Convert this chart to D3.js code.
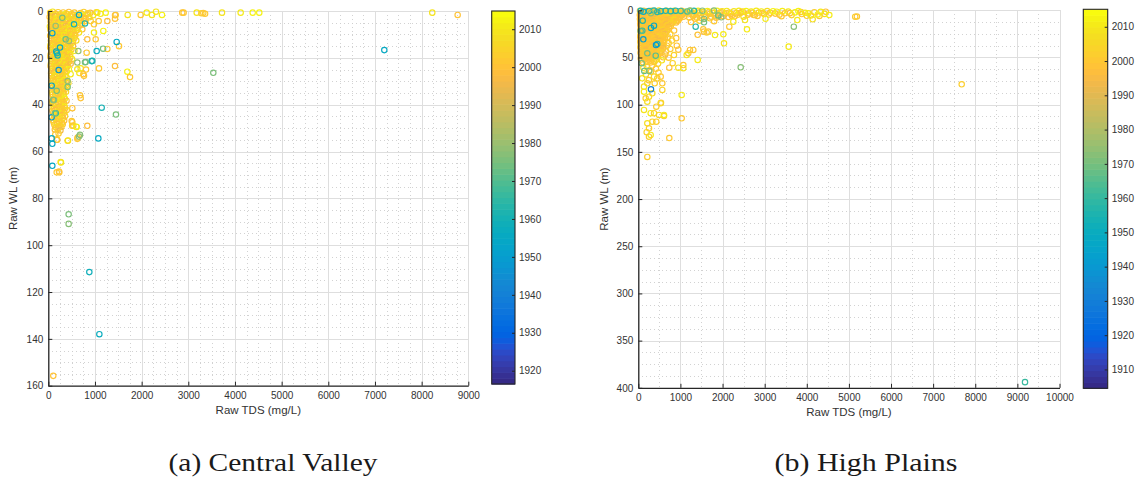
<!DOCTYPE html>
<html>
<head>
<meta charset="utf-8">
<script src="https://cdn.jsdelivr.net/npm/d3@7"></script>
<style>
  html, body { margin: 0; padding: 0; background: #ffffff; }
  svg { display: block; }
</style>
</head>
<body>
<svg id="fig" width="1136" height="477"></svg>
<script>
// ---------------------------------------------------------------
// Central Valley samples: [raw TDS (mg/L), raw water level (m), year]
// ---------------------------------------------------------------
const cvSamples = [
  // shallow band
  [40,0.8,2005],[95,0.3,2010],[150,1.2,1999],[210,0.5,2003],[265,1.4,2008],[320,0.6,2001],[380,1.1,2011],[440,0.4,1998],[500,1.3,2006],[560,0.7,2002],
  [620,1.6,2009],[690,0.9,2000],[760,0.4,2004],[830,1.5,2007],[900,0.8,1997],[960,1.8,2010],[1030,0.5,2003],[1120,1.2,2009],[1230,0.7,2012],[1050,0.7,2011],
  [65,1.9,2004],[120,1.7,2009],[180,2.0,2001],[235,1.6,2006],[290,2.1,1998],[345,1.8,2010],[410,1.5,2003],[470,2.0,2007],[530,1.7,2000],[590,2.1,2011],
  [650,1.8,2002],[720,1.4,2008],[850,1.0,2005],
  [30,2.6,2000],[85,3.1,2007],[140,2.2,1996],[200,2.9,2011],[255,2.4,2002],[315,3.3,1999],[370,2.1,2005],[430,2.8,2010],[490,2.3,2001],[545,3.2,2008],
  [610,2.5,1995],[670,3.0,2004],[740,2.2,2012],[800,3.4,1999],[880,2.7,2006],[765,2.9,2000],[1080,4.3,2001],[1265,4.3,1998],[1430,3.3,2000],[1430,1.8,1997],
  [1444,1.7,2001],[1701,1.7,2010],[1980,1.7,2001],[2108,0.7,2011],[2222,1.7,2009],[2308,0.3,2010],[2436,1.7,2012],[2870,0.7,2000],[2900,0.7,2001],[3180,0.7,2010],
  [3280,1.0,2003],[3321,0.9,2002],[3360,1.2,2001],[3722,0.7,2010],[4122,0.7,2011],[4380,0.7,2012],[4521,0.7,2012],[8228,0.7,2010],[8772,1.7,2000],
  [60,3.8,2009],[120,4.0,2002],[185,3.6,2006],[250,3.9,1999],[305,3.7,2011],[360,4.1,2001],[420,3.6,2004],[475,3.9,2008],[540,4.0,2000],[600,3.7,2010],[700,4.0,2002],
  [50,4.6,2003],[110,5.0,1998],[170,4.3,2009],[230,4.8,2000],[285,4.4,2006],[345,5.2,2002],[400,4.5,2011],[460,5.0,1997],[520,4.2,2004],[585,5.4,2009],
  [650,4.7,2001],[720,5.3,2007],[780,4.4,2000],[908,4.3,2003],[979,5.7,2001],
  [65,5.8,2001],[130,6.0,2007],[190,5.7,2003],[250,5.9,2010],[310,5.6,1997],[370,6.0,2005],[430,5.7,2000],[490,5.9,2012],[550,5.6,2003],[680,6.2,2006],
  [35,6.6,2008],[90,7.0,2001],[150,6.2,2005],[205,6.9,1999],[265,6.4,2010],[320,7.2,2003],[380,6.5,1996],[440,7.0,2008],[500,6.3,2002],[560,6.9,2011],
  [625,7.3,2000],[729,7.8,1998],
  [45,7.9,2006],[105,7.7,2000],[165,8.0,2010],[225,7.6,2003],[285,7.9,1998],[345,7.7,2008],[405,8.0,2001],[465,7.6,2011],[525,7.8,2005],[620,8.1,2002],
  [60,8.7,1997],[120,8.3,2006],[180,9.0,2002],[235,8.5,2009],[295,8.9,2000],[350,8.2,2005],[410,9.1,2012],[470,8.6,1999],[530,9.0,2004],[590,8.4,2007],
  [658,9.2,2010],[979,9.2,2011],[1179,8.5,2012],
  [75,9.7,2003],[135,9.9,2011],[195,9.6,2004],[255,9.8,1999],[315,9.5,2007],[375,9.9,2002],[435,9.6,2009],[495,9.8,2000],[560,9.7,2006],
  [40,10.6,2002],[100,10.2,2008],[160,11.0,1995],[220,10.4,2006],[280,10.9,2001],[335,10.3,2010],[395,11.1,1998],[455,10.5,2003],[515,10.9,2009],[580,10.4,2000],
  [836,12.1,1999],[1015,12.1,2001],
  [70,11.8,2009],[130,11.6,2002],[190,11.9,2006],[250,11.5,2000],[310,11.8,2011],[370,11.6,2004],[430,11.9,1999],[490,11.7,2007],[560,11.5,2001],
  [55,12.7,2004],[115,12.3,1999],[175,13.0,2007],[235,12.4,2001],[290,12.9,2005],[350,12.2,2011],[410,12.8,1996],[470,12.3,2006],[530,13.0,2002],[600,12.6,2008],
  [75,13.7,2000],[135,13.9,2008],[195,13.6,2002],[255,13.8,2010],[315,13.5,2004],[375,13.9,1998],[435,13.6,2006],[500,13.8,2011],
  [45,14.6,2010],[105,14.2,2001],[160,14.9,2004],[220,14.4,1998],[280,14.8,2009],[340,14.3,2003],[400,15.0,2000],[460,14.5,2007],[530,14.9,1997],[822,17.8,2001],
  [1515,15.0,2002],[1265,16.2,2001],
  [40,15.6,2002],[100,15.8,2009],[160,15.5,2001],[220,15.7,2005],[280,15.5,2010],[340,15.8,2000],[400,15.6,2007],[470,15.7,2003],
  [70,16.6,2000],[130,16.2,2006],[190,16.9,2002],[250,16.3,2011],[310,16.8,1999],[370,16.2,2005],[430,16.9,2008],[495,16.4,2001],[560,17.0,2010],
  [80,17.6,2007],[140,17.8,2000],[200,17.5,2004],[260,17.7,2011],[320,17.5,1998],[380,17.8,2006],[440,17.6,2001],
  [50,18.6,2003],[110,18.3,1997],[170,18.9,2009],[230,18.4,2004],[290,18.8,2000],[350,18.2,2007],[410,18.8,2002],[470,18.5,2011],
  [45,19.6,2001],[105,19.8,2006],[165,19.5,2010],[225,19.7,2002],[285,19.5,2005],[345,19.8,2009],[405,19.6,1999],[470,19.7,2004],
  [75,20.6,2005],[135,20.2,2001],[195,20.9,1998],[255,20.3,2010],[315,20.8,2003],[375,20.4,2006],[440,20.9,2000],[510,20.5,2009],
  [85,21.6,2010],[145,21.8,2003],[205,21.5,2007],[265,21.7,2000],[325,21.5,2011],[385,21.8,2004],[450,21.6,2001],
  [55,22.6,2008],[115,22.2,2002],[175,22.9,2006],[235,22.4,1999],[295,22.8,2011],[355,22.3,2001],[415,22.9,2005],[480,22.5,1997],
  [50,23.6,2002],[110,23.8,2009],[170,23.5,2000],[230,23.7,2006],[290,23.5,2003],[350,23.8,2010],[410,23.6,1998],
  [80,24.6,2000],[140,24.2,2007],[200,24.9,2003],[260,24.3,1996],[320,24.8,2009],[380,24.4,2002],[440,24.9,2012],[622,24.9,2010],[1086,24.5,2001],[1429,23.5,1999],
  [90,25.6,2007],[150,25.8,2002],[210,25.5,2011],[270,25.7,2004],[330,25.5,2000],[395,25.8,2008],
  [60,26.6,2004],[120,26.2,1999],[180,26.9,2010],[240,26.4,2001],[300,26.8,2006],[360,26.2,2003],[479,27.0,2011],[666,26.5,2009],[1694,25.9,2012],[694,24.5,2010],
  [65,27.6,2001],[125,27.8,2010],[185,27.5,2003],[245,27.7,2007],[305,27.5,2000],[365,27.8,2005],
  [90,28.6,2002],[150,28.2,2008],[210,28.9,2000],[270,28.4,2005],[330,28.8,1998],[390,28.3,2009],[765,27.7,2001],[750,27.0,2000],[808,25.0,2002],[1751,28.2,2001],
  [100,29.6,2004],[160,29.8,2000],[220,29.5,2009],[280,29.7,2002],[340,29.5,2011],[400,29.8,2006],
  [70,30.6,2006],[130,30.2,2001],[190,30.9,2004],[250,30.4,2011],[310,30.8,2002],[370,30.3,1997],[430,30.7,2007],
  [75,31.6,2010],[135,31.8,2003],[195,31.5,2006],[255,31.7,2000],[315,31.5,2008],[375,31.8,2001],
  [95,32.6,2000],[155,32.2,2009],[215,32.9,2003],[275,32.4,1999],[335,32.8,2005],[395,32.3,2010],
  [110,33.6,2002],[170,33.8,2011],[230,33.5,2004],[290,33.7,1999],[350,33.5,2007],
  [80,34.6,2004],[140,34.2,1998],[200,34.9,2008],[260,34.4,2002],[320,34.8,2000],[380,34.5,2006],
  [90,35.6,2008],[150,35.8,2001],[210,35.5,2005],[270,35.7,2010],[330,35.5,2002],
  [100,36.6,2001],[160,36.2,2007],[220,36.9,1999],[280,36.4,2004],[340,36.8,2010],[694,37.2,2000],[680,36.0,2001],
  [115,37.6,2003],[175,37.8,2009],[235,37.5,2000],[295,37.7,2006],[355,37.5,2011],
  [85,38.6,2003],[145,38.2,2000],[205,38.9,2005],[265,38.4,2009],[325,38.8,2002],[390,38.3,1998],
  [95,39.6,2005],[155,39.8,2000],[215,39.5,2010],[275,39.7,2003],[335,39.5,2001],
  [110,40.6,2006],[170,40.2,2001],[230,40.9,1997],[290,40.4,2003],[350,40.8,2011],[515,41.5,2000],
  [120,41.6,2009],[180,41.8,2002],[240,41.5,2006],[300,41.7,2000],[360,41.5,2004],
  [90,42.6,2002],[150,42.2,1999],[210,42.9,2008],[270,42.4,2004],[330,42.8,2000],[395,42.3,2005],
  [105,43.6,2001],[165,43.8,2007],[225,43.5,2003],[285,43.7,2010],[345,43.5,2000],
  [120,44.6,2004],[180,44.2,2010],[240,44.9,2001],[300,44.4,1998],[360,44.8,2006],
  [135,45.6,2006],[195,45.8,2000],[255,45.5,2011],[315,45.7,2002],
  [100,46.6,2000],[160,46.2,2005],[220,46.9,2002],[280,46.4,2009],[340,46.8,1999],[515,47.5,2002],[501,47.0,2001],
  [115,47.6,2002],[175,47.8,2009],[235,47.5,2001],[295,47.7,2005],
  [130,48.6,2003],[190,48.2,2000],[250,48.9,2007],[310,48.4,2001],[536,49.0,2004],[600,49.4,2012],[836,49.0,1999],[511,49.0,2003],[608,49.5,2011],
  [160,49.6,2008],[220,49.8,2001],[280,49.5,2004],
  [140,50.6,1999],[200,50.4,2003],[260,51.0,1996],
  [150,52.7,2001],[220,52.3,2004],[629,54.0,2002],[622,54.6,2001],
  [193,55.0,2000],[180,55.0,2002],[415,55.4,2003],[422,55.3,2009],
  [272,64.7,2010],[265,64.5,2009],[180,68.9,2001],[236,68.9,2002],[229,68.5,2000],[107,155.8,2000],
  // earlier decades
  [7200,16.7,1956],[1465,13.2,1955],[1037,17.1,1957],[929,21.4,1958],[1144,41.3,1960],[1072,54.4,1956],[72,54.4,1954],[86,56.7,1955],[86,66.1,1955],
  [72,31.9,1951],[72,45.4,1950],[86,9.5,1950],[879,111.5,1958],[1094,138.0,1957],[658,1.7,1956],[786,5.3,1962],[251,15.6,1955],[186,18.0,1960],
  [170,17.3,1958],[200,19.0,1961],[551,5.7,1960],[943,21.3,1962],[158,43.7,1960],[222,25.2,1948],
  [3536,26.4,1976],[1450,44.2,1975],[436,86.8,1976],[436,90.9,1977],[1175,16.1,1974],[786,21.9,1975],[622,22.0,1978],[679,52.9,1977],[107,38.0,1973],
  [143,43.7,1976],[300,2.9,1975],[158,6.4,1978],[372,12.1,1972],[443,12.8,1980],[643,17.1,1978],[801,21.8,1974],[415,32.4,1976],[415,29.9,1979],
  [180,34.1,1975],[122,38.0,1978],[658,53.6,1979]
];

// ---------------------------------------------------------------
// High Plains samples: [raw TDS (mg/L), raw water level (m), year]
// ---------------------------------------------------------------
const hpSamples = [
  [40,0.6,1998],[130,0.4,2003],[220,1.0,1996],[310,0.5,2001],[400,0.9,1994],[490,0.3,2005],[580,1.1,1999],[670,0.5,2002],[760,0.8,1997],[850,0.4,2008],
  [940,1.2,2000],[1030,0.6,1995],[1120,1.5,2010],
  [85,1.8,2001],[175,1.6,1997],[265,2.0,2003],[355,1.7,1999],[445,1.9,1995],[535,1.6,2002],[625,2.0,1998],[715,1.7,2004],[805,1.9,1996],[895,1.6,2001],
  [985,2.0,1999],[1075,1.7,2003],
  [80,3.2,2000],[170,2.7,1995],[260,3.4,2004],[350,2.9,1998],[440,3.5,2001],[530,2.8,1996],[620,3.3,2007],[710,2.6,1999],[800,3.6,2002],[890,2.9,1994],
  [980,3.4,2009],[1070,2.7,1998],
  [40,4.3,2002],[130,4.1,1998],[220,4.5,2000],[310,4.2,1996],[400,4.4,2003],[490,4.1,1999],[580,4.5,2001],[670,4.2,1997],[760,4.4,2005],[850,4.1,1998],
  [940,4.5,2002],[1030,4.2,2000],
  [40,5.6,1997],[130,5.2,2002],[220,5.9,1999],[310,5.3,1995],[400,5.7,2006],[490,5.1,2000],[580,5.8,1996],[670,5.4,2003],[760,6.0,1998],[850,5.2,2001],
  [940,5.8,2011],[1040,5.3,1997],
  [85,6.8,1996],[175,6.6,2001],[265,7.0,1998],[355,6.7,2004],[445,6.9,2000],[535,6.6,1997],[625,7.0,2003],[715,6.7,1999],[805,6.9,2001],[895,6.6,1996],
  [985,7.0,2004],[1080,6.7,1999],
  [85,8.1,2001],[175,7.7,1996],[265,8.4,2003],[355,7.8,1999],[445,8.3,1994],[535,7.6,2002],[625,8.2,1998],[715,7.9,2005],[805,8.5,1995],[895,7.7,2000],
  [985,8.3,1999],
  [40,9.3,2000],[130,9.1,1997],[220,9.5,2002],[310,9.2,1999],[400,9.4,1996],[490,9.1,2003],[580,9.5,1998],[670,9.2,2001],[760,9.4,1995],[850,9.1,2002],
  [940,9.5,1999],
  [45,10.6,1999],[135,10.2,1994],[225,10.9,2001],[315,10.4,1997],[405,10.8,2004],[495,10.3,1998],[585,10.9,2000],[675,10.4,1996],[765,10.7,2002],
  [855,10.2,2008],[950,10.8,1999],
  [90,11.8,2003],[180,11.6,1999],[270,12.0,2001],[360,11.7,1996],[450,11.9,2002],[540,11.6,1998],[630,12.0,2000],[720,11.7,1997],[810,11.9,2003],[900,11.6,1999],
  [90,13.1,2002],[180,12.8,1998],[270,13.4,1995],[360,12.9,2000],[450,13.3,2003],[540,12.7,1997],[630,13.2,2001],[720,12.9,1999],[810,13.5,2006],[900,13.0,1998],
  [45,14.3,1999],[135,14.1,2002],[225,14.5,1997],[315,14.2,2001],[405,14.4,1998],[495,14.1,2004],[585,14.5,2000],[675,14.2,1996],[765,14.4,2002],
  [50,16.2,1996],[140,15.8,2001],[230,16.4,1998],[320,16.0,2003],[410,16.5,1995],[500,15.9,2000],[590,16.3,1997],[680,16.1,2002],[770,16.6,1999],
  [95,17.5,2002],[185,17.3,1998],[275,17.7,2000],[365,17.4,1997],[455,17.6,2003],[545,17.3,1999],[635,17.7,2001],[725,17.4,1996],
  [95,19.1,2000],[185,18.7,1997],[275,19.4,2002],[365,18.9,1996],[455,19.3,2005],[545,18.8,1999],[635,19.2,2001],[725,18.9,1998],
  [50,20.5,1999],[140,20.3,2001],[230,20.7,1997],[320,20.4,2002],[410,20.6,1998],[500,20.3,2000],[590,20.7,2004],[680,20.4,1999],
  [50,22.2,1998],[140,21.8,2003],[230,22.4,1995],[320,22.0,2000],[410,22.5,1998],[500,21.9,2002],[590,22.3,1996],[680,22.1,2001],[850,21.5,1999],
  [1560,22.6,1997],[1662,22.6,1999],[1543,20.1,2000],[1624,23.6,2002],
  [95,23.5,2000],[185,23.3,1996],[275,23.7,2003],[365,23.4,1999],[455,23.6,2001],[545,23.3,1997],[635,23.7,2002],
  [90,25.1,2001],[180,24.7,1996],[270,25.4,1999],[360,24.9,2003],[450,25.3,1997],[540,24.8,2000],[630,25.2,1995],[760,25.5,2002],[1410,26.0,1998],
  [1821,26.2,2010],[2019,25.4,2011],
  [50,26.5,2003],[140,26.3,1999],[230,26.7,2001],[320,26.4,1996],[410,26.6,2000],[500,26.3,1998],[590,26.7,2002],
  [45,28.2,1999],[135,27.8,2002],[225,28.4,1997],[315,28.0,2000],[405,28.5,1996],[495,27.9,2004],[585,28.3,1998],[700,28.6,2001],[900,29.5,1999],
  [95,29.5,1998],[185,29.3,2002],[275,29.7,1999],[365,29.4,2001],[455,29.6,1997],[545,29.3,2003],[635,29.7,2000],
  [85,31.1,1997],[175,30.7,2001],[265,31.4,1998],[355,30.9,2003],[445,31.3,1995],[535,30.8,2000],[620,31.2,1999],[800,32.0,2002],
  [50,32.5,2001],[140,32.3,1997],[230,32.7,2003],[320,32.4,1998],[410,32.6,2000],[500,32.3,1996],[590,32.7,1999],
  [50,34.2,2000],[140,33.8,1996],[230,34.4,2002],[320,34.0,1999],[410,34.5,1997],[500,33.9,2001],[590,34.3,1998],[720,34.8,2003],[2035,35.0,2009],
  [95,35.5,1999],[185,35.3,2001],[275,35.7,1997],[365,35.4,2002],[455,35.6,1998],[545,35.3,2000],
  [90,37.1,2002],[180,36.7,1998],[270,37.4,2000],[360,36.9,1996],[450,37.3,2004],[540,36.8,1999],[680,37.5,2001],[914,37.5,1998],
  [50,38.5,2002],[140,38.3,1998],[230,38.7,2000],[320,38.4,1996],[410,38.6,2003],[500,38.3,1999],[590,38.7,2001],
  [55,40.2,1997],[145,39.8,2001],[235,40.4,1999],[325,40.0,2003],[415,40.5,1998],[505,39.9,2000],[595,40.3,1996],[760,41.0,2002],[950,41.8,1999],
  [1227,42.0,1999],[1306,42.0,2001],
  [95,41.5,2000],[185,41.3,1997],[275,41.7,2001],[365,41.4,1999],[455,41.6,2002],[545,41.3,1998],
  [95,43.1,2000],[185,42.7,1996],[275,43.4,2002],[365,42.9,1998],[455,43.3,2001],[545,42.8,1997],[660,43.6,2003],[1187,45.5,2000],
  [55,44.5,1998],[145,44.3,2002],[235,44.7,1999],[325,44.4,2001],[415,44.6,1997],[505,44.3,2003],
  [60,46.2,1998],[150,45.8,2003],[240,46.4,1997],[330,46.0,2000],[420,46.5,1999],[510,45.9,2002],[640,46.8,1996],[847,47.4,2004],[1148,47.4,2009],
  [100,47.5,2001],[190,47.3,1999],[280,47.7,2002],[370,47.4,1998],[460,47.6,2000],
  [100,49.1,2001],[190,48.7,1999],[280,49.4,1996],[370,48.9,2003],[460,49.3,2000],[590,49.8,1998],[720,50.2,2001],
  [60,50.5,1999],[150,50.3,2003],[240,50.7,2000],[330,50.4,1997],
  [65,52.2,2002],[155,51.8,1997],[245,52.4,2000],[335,52.0,1999],[425,52.5,2005],[1410,52.6,2010],[560,53.0,2009],
  [110,55.1,1999],[200,54.7,2001],[290,55.4,1998],[380,54.9,2002],[816,56.0,2004],[470,56.5,2006],
  [736,60.8,1999],[950,60.8,2008],[1069,61.4,2009],[1069,58.0,2000],[200,59.0,2003],[330,58.5,2000],[120,61.0,2008],[420,62.0,2001],[260,63.5,2005],
  [300,65.0,2000],[180,68.0,2005],[480,66.0,2003],[90,72.0,2009],[250,74.0,2001],
  [451,72.0,2002],[532,70.3,2000],[373,70.3,2006],[214,77.3,2004],[389,77.3,2002],[570,77.3,2001],[135,80.9,2008],[570,84.4,2004],[333,87.9,2007],
  [135,86.2,2010],[254,91.5,2005],[175,93.2,2003],[214,96.8,2008],[539,97.9,2001],[532,98.5,2006],[427,102.1,2002],[135,105.6,2009],[294,109.0,2010],
  [373,109.0,2003],[491,110.9,2005],[610,112.0,2002],[610,110.9,2010],[333,118.0,2004],[427,118.0,2003],[214,119.7,2008],[254,125.0,2002],[199,129.2,2004],
  [294,132.1,2010],[254,133.9,2003],[736,135.4,2001],[214,155.4,2002],[1030,89.7,2010],[1030,114.4,2000],
  // shallow band toward high TDS
  [1150,2.8,1998],[1210,7.5,2001],[1280,3.5,1996],[1330,5.0,2002],[1390,7.8,1999],[1450,2.2,2003],[1500,8.2,1997],[1560,3.8,2000],[1610,5.8,1998],
  [1680,1.8,2004],[1730,6.8,1999],[1790,3.0,2001],[1850,7.9,1996],[1910,4.4,2002],[1960,1.8,2000],[2020,6.2,1998],[2080,2.8,2003],[2140,7.0,1999],
  [2200,3.8,2001],[2290,6.4,1997],[2360,4.7,2002],[2420,2.9,2000],[2480,1.2,2003],[2600,4.8,1999],[2710,2.5,2001],[2830,6.0,1998],[2950,2.9,2002],
  [3100,4.5,2000],[3250,3.5,1998],[3400,6.2,2001],[3600,3.0,1997],[3860,1.8,1999],[4000,5.8,2002],[4300,6.0,2001],[4450,1.5,1999],
  [1180,4.2,2000],[1240,0.8,2009],[1300,6.0,1999],[1350,2.5,2003],[1420,0.6,2010],[1470,4.8,1998],[1520,1.9,2006],[1590,7.2,2001],[1640,0.9,2011],
  [1700,3.6,1997],[1760,1.2,2004],[1820,5.5,2000],[1870,0.5,2012],[1930,2.8,1999],[1990,1.0,2008],[2050,4.2,1996],[2100,0.7,2010],[2160,2.3,2002],
  [2220,5.9,1999],[2270,1.1,2009],[2330,3.0,2001],[2390,0.6,2011],[2450,2.0,1998],[2500,6.8,2005],[2560,0.9,2012],[2620,3.3,2000],[2680,1.4,2009],
  [2740,5.0,1997],[2800,0.6,2011],[2860,2.4,2003],[2920,1.2,2010],[2990,4.0,1999],[3060,0.8,2008],[3130,2.6,2001],[3200,1.0,2012],[3285,1.5,2010],
  [3350,4.6,2000],[3420,0.9,2011],[3480,3.2,1998],[3560,1.3,2009],[3640,5.1,2002],[3720,2.2,2010],[3800,0.8,2012],[3880,4.0,2001],[3960,2.7,2011],
  [4036,3.2,2010],[4100,5.6,2009],[4180,2.0,2003],[4260,4.4,2012],[4330,1.6,2010],[4420,3.8,2008],[4535,5.0,2010],[2770,5.0,2003],[2533,10.3,2009],
  [2256,12.0,2011],[2161,17.4,2000],[2580,20.1,2010],[3775,10.3,2010],[4140,9.5,2008],[3020,9.0,2011],[3570,38.5,2010],[1700,8.5,2002],[1900,6.5,1997],
  [1350,9.0,2001],[1250,12.5,1999],[1450,11.0,2004],[1800,11.5,2000],
  [5150,6.8,2002],[5190,6.6,2000],[7678,78.4,2003],
  // earlier decades
  [57,0.6,1953],[254,0.8,1955],[373,0.3,1957],[532,1.0,1952],[650,0.5,1956],[769,0.9,1958],[888,0.4,1954],[1007,0.7,1960],[1163,1.2,1962],[1322,0.6,1958],
  [120,1.5,1950],[450,1.8,1959],[1362,17.4,1958],[104,11.0,1955],[451,35.7,1956],[95,21.6,1962],
  [1520,0.4,1972],[1560,9.2,1975],[1560,12.7,1970],[1970,7.4,1974],[1797,0.3,1973],[1227,0.3,1971],[1900,5.5,1968],[2431,60.4,1972],[3692,17.4,1972],
  [80,56.0,1970],[142,64.3,1968],[261,64.3,1972],[214,45.6,1970],[413,48.1,1966],[57,22.0,1965],[300,3.0,1975],
  [301,83.7,1932],[420,36.8,1940],[119,30.7,1942],[301,18.7,1945],[373,16.3,1948],
  [9181,394.0,1960]
];

// Axis ticks and colour limits
const cvTdsTicks = [0,1000,2000,3000,4000,5000,6000,7000,8000,9000];
const cvWlTicks = [0,20,40,60,80,100,120,140,160];
const cvYearTicks = [1920,1930,1940,1950,1960,1970,1980,1990,2000,2010];
const cvYearLimits = [1916.5, 2014.8];

const hpTdsTicks = [0,1000,2000,3000,4000,5000,6000,7000,8000,9000,10000];
const hpWlTicks = [0,50,100,150,200,250,300,350,400];
const hpYearTicks = [1910,1920,1930,1940,1950,1960,1970,1980,1990,2000,2010];
const hpYearLimits = [1904.5, 2015.1];

const captions = ["(a) Central Valley", "(b) High Plains"];
const xLabel = "Raw TDS (mg/L)";
const yLabel = "Raw WL (m)";

// Parula colormap, 64 entries
const PARULA = [
  [0.2081,0.1663,0.5292],[0.2116,0.1898,0.5777],[0.2123,0.2138,0.6270],[0.2081,0.2386,0.6771],
  [0.1959,0.2645,0.7279],[0.1707,0.2919,0.7792],[0.1253,0.3242,0.8303],[0.0591,0.3598,0.8683],
  [0.0117,0.3875,0.8820],[0.0060,0.4086,0.8828],[0.0165,0.4266,0.8786],[0.0329,0.4430,0.8720],
  [0.0498,0.4586,0.8641],[0.0629,0.4737,0.8554],[0.0723,0.4887,0.8467],[0.0779,0.5040,0.8384],
  [0.0793,0.5200,0.8312],[0.0749,0.5375,0.8263],[0.0641,0.5570,0.8240],[0.0488,0.5772,0.8228],
  [0.0343,0.5966,0.8199],[0.0265,0.6137,0.8135],[0.0239,0.6287,0.8038],[0.0231,0.6418,0.7913],
  [0.0228,0.6535,0.7768],[0.0267,0.6642,0.7607],[0.0384,0.6743,0.7436],[0.0590,0.6838,0.7254],
  [0.0843,0.6928,0.7062],[0.1133,0.7015,0.6859],[0.1453,0.7098,0.6646],[0.1801,0.7177,0.6424],
  [0.2178,0.7250,0.6193],[0.2586,0.7317,0.5954],[0.3022,0.7376,0.5712],[0.3482,0.7424,0.5473],
  [0.3953,0.7459,0.5244],[0.4420,0.7481,0.5033],[0.4871,0.7491,0.4840],[0.5300,0.7491,0.4661],
  [0.5709,0.7485,0.4494],[0.6099,0.7473,0.4337],[0.6473,0.7456,0.4188],[0.6834,0.7435,0.4044],
  [0.7184,0.7411,0.3905],[0.7525,0.7384,0.3768],[0.7858,0.7356,0.3633],[0.8185,0.7327,0.3498],
  [0.8507,0.7299,0.3360],[0.8824,0.7274,0.3217],[0.9139,0.7258,0.3063],[0.9450,0.7261,0.2886],
  [0.9739,0.7314,0.2666],[0.9938,0.7455,0.2403],[0.9990,0.7653,0.2164],[0.9955,0.7861,0.1967],
  [0.9880,0.8066,0.1794],[0.9789,0.8271,0.1633],[0.9697,0.8481,0.1475],[0.9626,0.8705,0.1309],
  [0.9589,0.8949,0.1132],[0.9598,0.9218,0.0948],[0.9661,0.9514,0.0755],[0.9763,0.9831,0.0538]
].map(c => d3.rgb(c[0]*255, c[1]*255, c[2]*255).formatHex());

function parulaColor(value, limits) {
  const t = (value - limits[0]) / (limits[1] - limits[0]);
  const i = Math.max(0, Math.min(PARULA.length - 1, Math.floor(t * PARULA.length)));
  return PARULA[i];
}

const svg = d3.select("#fig");
const INK = "#262626";
const SANS = "'Liberation Sans', Arial, Helvetica, sans-serif";

function drawPanel(p) {
  const x = d3.scaleLinear().domain([0, p.xTicks[p.xTicks.length - 1]]).range([p.left, p.right]);
  const y = d3.scaleLinear().domain([0, p.yTicks[p.yTicks.length - 1]]).range([p.top, p.bottom]);
  const g = svg.append("g");

  // minor grid (dotted)
  const xMinor = d3.range(0, x.domain()[1] + 1e-6, p.xMinorStep).filter(v => !p.xTicks.includes(v));
  const yMinor = d3.range(0, y.domain()[1] + 1e-6, p.yMinorStep).filter(v => !p.yTicks.includes(v));
  const minor = g.append("g").attr("stroke", "#cdcdcd").attr("stroke-width", 0.9)
    .attr("stroke-dasharray", "1,3").attr("shape-rendering", "crispEdges");
  minor.selectAll(".mx").data(xMinor).join("line")
    .attr("x1", d => Math.round(x(d)) + 0.5).attr("x2", d => Math.round(x(d)) + 0.5)
    .attr("y1", p.top).attr("y2", p.bottom);
  minor.selectAll(".my").data(yMinor).join("line")
    .attr("y1", d => Math.round(y(d)) + 0.5).attr("y2", d => Math.round(y(d)) + 0.5)
    .attr("x1", p.left).attr("x2", p.right);

  // major grid (solid)
  const major = g.append("g").attr("stroke", "#dedede").attr("stroke-width", 1)
    .attr("shape-rendering", "crispEdges");
  major.selectAll(".gx").data(p.xTicks).join("line")
    .attr("x1", d => Math.round(x(d)) + 0.5).attr("x2", d => Math.round(x(d)) + 0.5)
    .attr("y1", p.top).attr("y2", p.bottom);
  major.selectAll(".gy").data(p.yTicks).join("line")
    .attr("y1", d => Math.round(y(d)) + 0.5).attr("y2", d => Math.round(y(d)) + 0.5)
    .attr("x1", p.left).attr("x2", p.right);

  // samples, open circles coloured by year
  g.append("g").selectAll("circle").data(p.samples).join("circle")
    .attr("cx", d => x(d[0])).attr("cy", d => y(d[1])).attr("r", 2.7)
    .attr("fill", "none").attr("stroke-width", 1.15)
    .attr("stroke", d => parulaColor(d[2], p.limits));

  // axes with inward ticks
  const ax = g.append("g").attr("transform", `translate(0,${p.bottom})`)
    .call(d3.axisBottom(x).tickValues(p.xTicks).tickFormat(d3.format("d"))
      .tickSizeInner(-4).tickSizeOuter(0).tickPadding(6));
  const ay = g.append("g").attr("transform", `translate(${p.left},0)`)
    .call(d3.axisLeft(y).tickValues(p.yTicks).tickFormat(d3.format("d"))
      .tickSizeInner(-4).tickSizeOuter(0).tickPadding(5));
  [ax, ay].forEach(a => {
    a.attr("color", INK).attr("font-family", SANS).attr("font-size", 10);
    a.select(".domain").attr("stroke-width", 1.3);
    a.selectAll("text").attr("fill", "#333");
  });
  ax.selectAll("text").attr("dy", "0.71em");

  g.append("text").attr("x", (p.left + p.right) / 2).attr("y", p.bottom + 28.5)
    .attr("text-anchor", "middle").attr("font-family", SANS).attr("font-size", 11.5)
    .attr("fill", "#333").text(xLabel);
  g.append("text").attr("transform", `translate(${p.yLabelX},${(p.top + p.bottom) / 2}) rotate(-90)`)
    .attr("text-anchor", "middle").attr("font-family", SANS).attr("font-size", 11.5)
    .attr("fill", "#333").text(yLabel);

  // colorbar
  const cb = d3.scaleLinear().domain(p.limits).range([p.cbBottom, p.cbTop]);
  const step = (p.limits[1] - p.limits[0]) / PARULA.length;
  const bar = g.append("g");
  bar.selectAll("rect").data(PARULA).join("rect")
    .attr("x", p.cbLeft).attr("width", p.cbRight - p.cbLeft)
    .attr("y", (c, i) => cb(p.limits[0] + (i + 1) * step))
    .attr("height", (c, i) => cb(p.limits[0] + i * step) - cb(p.limits[0] + (i + 1) * step) + 0.6)
    .attr("fill", c => c);
  bar.append("rect").attr("x", p.cbLeft).attr("y", p.cbTop)
    .attr("width", p.cbRight - p.cbLeft).attr("height", p.cbBottom - p.cbTop)
    .attr("fill", "none").attr("stroke", INK).attr("stroke-width", 1.1);
  const cbAxis = g.append("g").attr("transform", `translate(${p.cbRight},0)`)
    .call(d3.axisRight(cb).tickValues(p.cbTicks).tickFormat(d3.format("d"))
      .tickSizeInner(-3).tickSizeOuter(0).tickPadding(4));
  cbAxis.attr("color", INK).attr("font-family", SANS).attr("font-size", 10);
  cbAxis.select(".domain").remove();
  cbAxis.selectAll("text").attr("fill", "#333");

  // caption
  svg.append("text").attr("x", p.captionX).attr("y", 471)
    .attr("text-anchor", "middle").attr("font-family", "'Liberation Serif', 'Times New Roman', serif")
    .attr("font-size", 25).attr("fill", "#1a1a1a")
    .attr("textLength", p.captionWidth).attr("lengthAdjust", "spacingAndGlyphs")
    .text(p.caption);
}

drawPanel({
  samples: cvSamples, xTicks: cvTdsTicks, yTicks: cvWlTicks, xMinorStep: 250, yMinorStep: 5,
  left: 48.3, right: 468.3, top: 11, bottom: 385.7, yLabelX: 17,
  limits: cvYearLimits, cbTicks: cvYearTicks, cbLeft: 491.7, cbRight: 515, cbTop: 11, cbBottom: 384,
  caption: captions[0], captionX: 273, captionWidth: 209
});
drawPanel({
  samples: hpSamples, xTicks: hpTdsTicks, yTicks: hpWlTicks, xMinorStep: 500, yMinorStep: 12.5,
  left: 638.3, right: 1059.5, top: 10.3, bottom: 387.8, yLabelX: 607.5,
  limits: hpYearLimits, cbTicks: hpYearTicks, cbLeft: 1083.3, cbRight: 1107.7, cbTop: 9.3, cbBottom: 388.3,
  caption: captions[1], captionX: 866, captionWidth: 183
});
</script>
</body>
</html>
